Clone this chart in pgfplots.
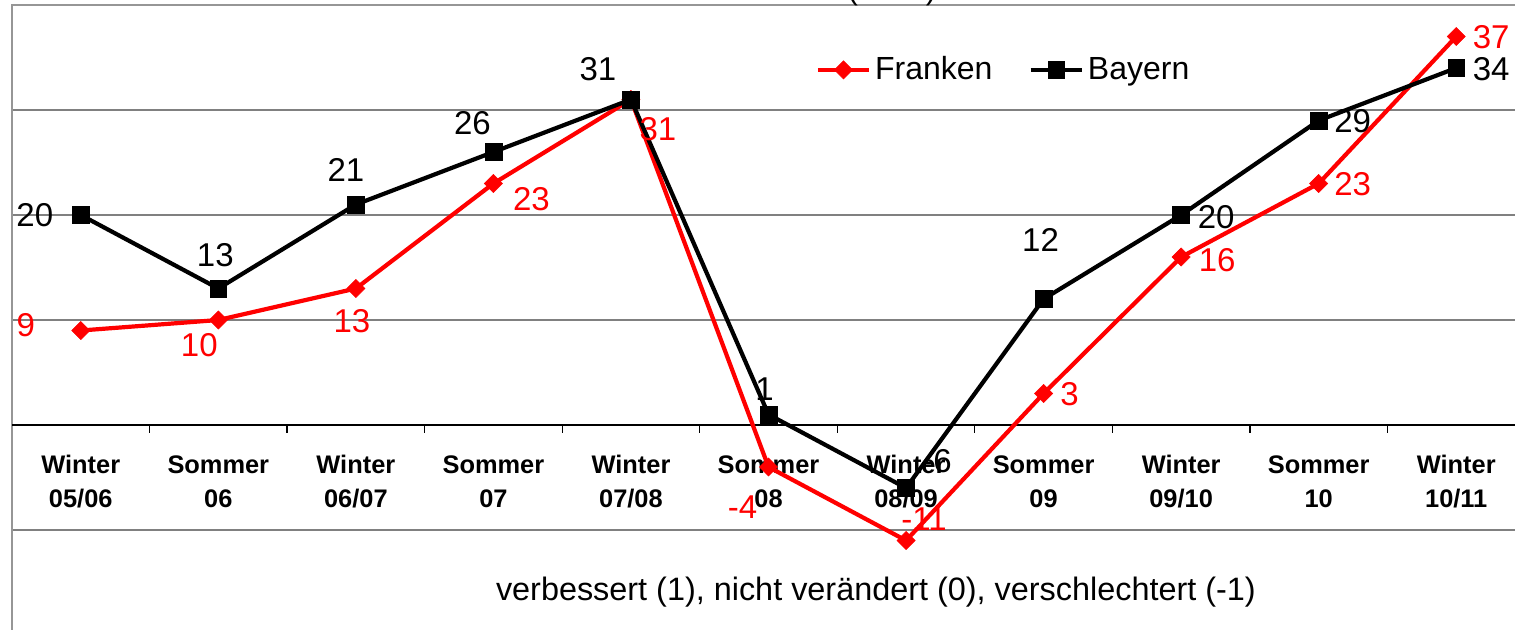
\documentclass[border=0pt]{standalone}
\usepackage{pgfplots}
\pgfplotsset{compat=1.18}
\usepackage{pgfplotstable}
\usepackage{fontspec}
\setmainfont{Liberation Sans}
\definecolor{xred}{RGB}{255,0,0}
\definecolor{gridgray}{RGB}{128,128,128}
\definecolor{bordergray}{RGB}{150,150,150}

\pgfplotstableread{
x y dx dy lab
0 9 -27.5 2.5 9
1 10 -9.5 -12.5 10
2 13 -2 -16.5 13
3 23 19 -8 23
4 31 13.5 -15 31
5 -4 -13 -20 -4
6 -11 9 10.5 -11
7 3 13 -0.5 3
8 16 18 -1.5 16
9 23 17 -0.5 23
10 37 17.5 -0.5 37
}\franken

\pgfplotstableread{
x y dx dy lab
0 20 -23 0 20
1 13 -1.5 16.5 13
2 21 -5 17.5 21
3 26 -10.5 14.5 26
4 31 -16.5 15 31
5 1 -2 12.5 1
6 -6 15.5 13.5 -6
7 12 -1.5 29.5 12
8 20 17.5 -1 20
9 29 17 -0.5 29
10 34 17.5 -0.5 34
}\bayern

\pgfplotsset{
  lbl/.style={
    nodes near coords={\pgfplotspointmeta},
    point meta=explicit symbolic,
    visualization depends on={\thisrow{dx}\as\dx},
    visualization depends on={\thisrow{dy}\as\dy},
    nodes near coords style={anchor=center, inner sep=0pt, xshift=\dx pt, yshift=\dy pt,
      font=\fontsize{16.5}{19}\selectfont, text=#1},
  },
}

\begin{document}
\begin{tikzpicture}
\begin{axis}[
  at={(0,0)}, anchor=south west,
  scale only axis, width=756.5pt, height=315pt,
  xmin=-0.5, xmax=10.5, ymin=-20, ymax=40,
  clip=false,
  axis line style={draw=bordergray, line width=1pt},
  xtick={0,...,10},
  xticklabels={{Winter\\05/06},{Sommer\\06},{Winter\\06/07},{Sommer\\07},{Winter\\07/08},{Sommer\\08},{Winter\\08/09},{Sommer\\09},{Winter\\09/10},{Sommer\\10},{Winter\\10/11}},
  xticklabel style={align=center, anchor=center, yshift=76.5pt, font=\bfseries\fontsize{12.7}{17}\selectfont},
  major tick length=0pt,
  ytick={-20,-10,10,20,30,40},
  yticklabels={},
  ymajorgrids,
  grid style={draw=gridgray, line width=0.65pt},
  extra y ticks={0}, extra y tick labels={},
  extra y tick style={grid style={draw=black, line width=0.65pt}},
  xlabel={verbessert (1), nicht verändert (0), verschlechtert (-1)},
  xlabel style={at={(axis description cs:0.571,0.0675)}, anchor=center, font=\fontsize{16.2}{19}\selectfont},
  legend style={at={(axis description cs:0.656,0.897)}, anchor=center, draw=none, fill=none,
    font=\fontsize{16}{19}\selectfont, /tikz/every even column/.append style={column sep=16pt}},
  legend columns=2,
  legend image code/.code={\draw[mark repeat=2,mark phase=2,#1] plot coordinates {(0cm,0cm) (0.45cm,0cm) (0.9cm,0cm)};},
]
\addplot[draw=xred, line width=2.1pt, mark=square*, mark size=3.2pt,
  mark options={rotate=45, solid, fill=xred, draw=xred, line width=0.3pt}, lbl=xred]
  table[x=x, y=y, meta=lab] {\franken};
\addlegendentry{Franken}
\addplot[draw=black, line width=2.1pt, mark=square*, mark size=4.2pt,
  mark options={solid, fill=black, draw=black, line width=0.3pt}, lbl=black]
  table[x=x, y=y, meta=lab] {\bayern};
\addlegendentry{Bayern}
\addplot[black, line width=0.65pt, ycomb, no marks, forget plot]
  coordinates {(0.5,-0.76) (1.5,-0.76) (2.5,-0.76) (3.5,-0.76) (4.5,-0.76) (5.5,-0.76) (6.5,-0.76) (7.5,-0.76) (8.5,-0.76) (9.5,-0.76)};
\end{axis}
\node[anchor=base, font=\fontsize{15.5}{18}\selectfont] at (440pt,318pt) {(\hspace{34pt})};
\pgfresetboundingbox
\useasboundingbox (-6pt,3pt) rectangle (751.5pt,317.5pt);
\end{tikzpicture}
\end{document}
